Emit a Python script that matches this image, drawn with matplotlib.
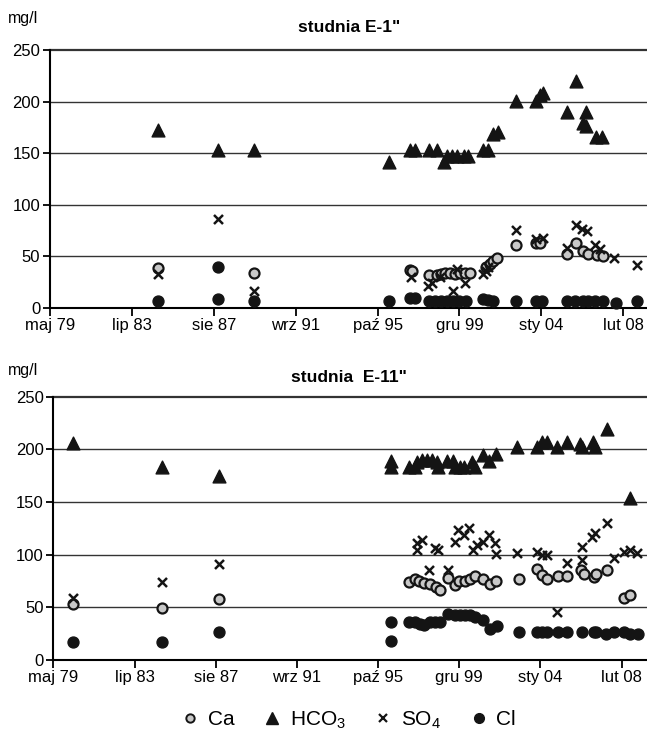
import numpy as np
import matplotlib
matplotlib.use("Agg")
import matplotlib.pyplot as plt
from matplotlib.lines import Line2D

plt.rcParams['font.family'] = ['Liberation Sans', 'DejaVu Sans']
plt.rcParams['mathtext.fontset'] = 'custom'
plt.rcParams['mathtext.rm'] = 'Liberation Sans'
plt.rcParams['mathtext.it'] = 'Liberation Sans'

# x tick positions (decimal years) and labels
tick_pos = [1979.33, 1983.42, 1987.5, 1991.58, 1995.67, 1999.75, 2003.83, 2007.92]
tick_lab = ['maj 79', 'lip 83', 'sie 87', 'wrz 91', 'paź 95', 'gru 99', 'sty 04', 'lut 08']

# ---- studnia E-1" ----
e1_hco3_t = [1984.72, 1987.71, 1989.50, 1996.25, 1997.29, 1997.53, 1998.25, 1998.62, 1998.98,
             1999.12, 1999.39, 1999.61, 1999.99, 2000.19, 2000.94, 2001.19, 2001.44, 2001.69,
             2002.57, 2003.57, 2003.77, 2003.90, 2005.10, 2005.55, 2006.05, 2005.93, 2006.05,
             2006.55, 2006.85]
e1_hco3 = [172, 153, 153, 141, 153, 153, 153, 153, 141,
           147, 147, 147, 147, 147, 153, 153, 169, 171,
           201, 201, 206, 208, 190, 220, 190, 179, 176,
           166, 166]

e1_ca_t = [1984.72, 1989.50, 1997.29, 1997.40, 1998.25, 1998.62, 1998.82, 1999.03, 1999.28,
           1999.53, 1999.78, 2000.03, 2000.28, 2001.06, 2001.28, 2001.44, 2001.61, 2002.57,
           2003.57, 2003.77, 2005.10, 2005.56, 2005.93, 2006.18, 2006.60, 2006.90]
e1_ca = [39, 34, 37, 36, 32, 32, 33, 34, 34,
         33, 34, 34, 34, 40, 43, 46, 48, 61,
         63, 63, 52, 63, 55, 52, 51, 50]

e1_so4_t = [1984.72, 1987.71, 1989.50, 1997.33, 1998.20, 1998.37, 1998.80, 1999.45, 1999.61,
            2000.03, 2000.94, 2001.06, 2001.19, 2002.57, 2003.57, 2003.90, 2005.10, 2005.56,
            2005.85, 2006.10, 2006.51, 2006.76, 2007.46, 2008.59]
e1_so4 = [33, 86, 16, 30, 21, 24, 30, 16, 38,
          24, 33, 36, 40, 76, 67, 68, 58, 80,
          77, 75, 61, 57, 48, 42]

e1_cl_t = [1984.72, 1987.71, 1987.71, 1989.50, 1996.25, 1997.29, 1997.53, 1998.25, 1998.55,
           1998.85, 1999.15, 1999.45, 1999.75, 2000.05, 2000.94, 2001.19, 2001.44, 2002.57,
           2003.57, 2003.85, 2005.10, 2005.51, 2005.93, 2006.18, 2006.51, 2006.93, 2007.56,
           2008.59]
e1_cl = [7, 9, 40, 7, 7, 10, 10, 7, 7,
         7, 7, 7, 7, 7, 9, 8, 7, 7,
         7, 7, 7, 7, 7, 7, 7, 7, 5,
         7]

# ---- studnia E-11" ----
e11_hco3_t = [1980.30, 1984.82, 1987.67, 1996.32, 1996.32, 1997.25, 1997.53, 1997.62, 1997.87,
              1998.12, 1998.37, 1998.62, 1998.71, 1999.13, 1999.46, 1999.55, 1999.80, 2000.00,
              2000.40, 2000.55, 2000.97, 2001.27, 2001.60, 2002.68, 2003.66, 2003.90, 2004.16,
              2004.66, 2005.17, 2005.84, 2005.92, 2006.47, 2006.60, 2007.18, 2008.32]
e11_hco3 = [206, 183, 175, 189, 183, 183, 183, 188, 190,
            190, 190, 188, 183, 189, 189, 183, 183, 183,
            188, 183, 195, 189, 196, 202, 202, 207, 207,
            202, 207, 205, 202, 207, 202, 219, 154]

e11_ca_t = [1980.30, 1984.82, 1987.67, 1997.25, 1997.53, 1997.75, 1997.98, 1998.29, 1998.59,
            1998.79, 1999.21, 1999.55, 1999.76, 2000.05, 2000.30, 2000.55, 2000.97, 2001.30,
            2001.60, 2002.77, 2003.69, 2003.90, 2004.16, 2004.71, 2005.20, 2005.87, 2006.04,
            2006.51, 2006.64, 2007.18, 2008.02, 2008.35]
e11_ca = [53, 49, 58, 74, 77, 75, 73, 72, 69,
          66, 78, 71, 75, 75, 77, 80, 77, 72,
          75, 77, 86, 81, 77, 80, 80, 85, 82,
          79, 82, 85, 59, 62]

e11_so4_t = [1980.30, 1984.82, 1987.67, 1997.62, 1997.62, 1997.90, 1998.25, 1998.54, 1998.71,
             1999.21, 1999.55, 1999.71, 1999.97, 2000.22, 2000.47, 2000.64, 2000.97, 2001.27,
             2001.56, 2001.61, 2002.68, 2003.66, 2003.90, 2004.16, 2004.66, 2005.17, 2005.92,
             2005.92, 2006.42, 2006.60, 2007.18, 2007.55, 2008.02, 2008.35, 2008.69]
e11_so4 = [59, 74, 91, 104, 111, 114, 85, 106, 104,
           85, 112, 123, 119, 125, 104, 109, 112, 119,
           111, 101, 102, 103, 100, 100, 46, 92, 107,
           95, 117, 121, 130, 97, 103, 104, 102]

e11_cl_t = [1980.30, 1984.82, 1987.67, 1996.32, 1996.32, 1997.25, 1997.53, 1997.78, 1997.98,
            1998.29, 1998.54, 1998.79, 1999.21, 1999.55, 1999.80, 2000.05, 2000.30, 2000.55,
            2000.97, 2001.30, 2001.64, 2002.77, 2003.66, 2003.90, 2004.16, 2004.71, 2005.17,
            2005.92, 2006.51, 2006.64, 2007.15, 2007.52, 2008.02, 2008.35, 2008.77]
e11_cl = [17, 17, 27, 36, 18, 36, 36, 34, 33,
          36, 36, 36, 44, 43, 43, 43, 43, 41,
          38, 29, 32, 27, 27, 27, 27, 27, 27,
          27, 27, 27, 25, 27, 27, 25, 25]

W, H = 647, 739
fig = plt.figure(figsize=(W / 100, H / 100), dpi=100)


def panel(rect, xmax, title, title_y, unit_y, ca_t, ca, hco3_t, hco3, so4_t, so4, cl_t, cl):
    ax = fig.add_axes(rect)
    ax.set_xlim(1979.33, xmax)
    ax.set_ylim(0, 250)
    ax.set_yticks([0, 50, 100, 150, 200, 250])
    ax.set_xticks(tick_pos)
    ax.set_xticklabels(tick_lab)
    for y in [50, 100, 150, 200]:
        ax.axhline(y, color='#333333', lw=1.0, zorder=1)
    ax.axhline(250, color='#333333', lw=1.6, zorder=1, clip_on=False)
    for s in ['top', 'right']:
        ax.spines[s].set_visible(False)
    ax.spines['left'].set_linewidth(1.5)
    ax.spines['bottom'].set_linewidth(1.5)
    ax.tick_params(axis='both', direction='out', length=5, width=1.3, labelsize=12, pad=2)
    ax.tick_params(axis='x', length=6, pad=1)

    ax.scatter(cl_t, cl, s=62, marker='o', color='#141414', zorder=3, clip_on=False)
    ax.scatter(hco3_t, hco3, s=85, marker='^', color='#141414', zorder=3, clip_on=False)
    ax.scatter(ca_t, ca, s=52, marker='o', facecolor='#c8c8c8', edgecolor='#141414',
               linewidths=1.6, zorder=4, clip_on=False)
    ax.scatter(so4_t, so4, s=42, marker='x', color='#141414', linewidths=1.8, zorder=5, clip_on=False)

    fig.text(349 / W, 1 - title_y / H, title, ha='center', va='center',
             fontsize=12.5, fontweight='bold')
    fig.text(8 / W, 1 - unit_y / H, 'mg/l', ha='left', va='center', fontsize=11.5)
    return ax


panel([50 / W, 1 - 308 / H, 597 / W, 258 / H], 2009.1, 'studnia E-1"', 28, 18,
      e1_ca_t, e1_ca, e1_hco3_t, e1_hco3, e1_so4_t, e1_so4, e1_cl_t, e1_cl)
panel([53.3 / W, 1 - 660 / H, 593.7 / W, 263.3 / H], 2009.2, 'studnia  E-11"', 378, 371,
      e11_ca_t, e11_ca, e11_hco3_t, e11_hco3, e11_so4_t, e11_so4, e11_cl_t, e11_cl)

handles = [
    Line2D([], [], ls='none', marker='o', ms=6, mfc='#c8c8c8', mec='#141414', mew=1.4),
    Line2D([], [], ls='none', marker='^', ms=8, color='#141414'),
    Line2D([], [], ls='none', marker='x', ms=6, color='#141414', mew=1.6),
    Line2D([], [], ls='none', marker='o', ms=7, color='#141414'),
]
fig.legend(handles, ['Ca', 'HCO$_3$', 'SO$_4$', 'Cl'], loc='center', ncol=4,
           bbox_to_anchor=(348 / W, 1 - 720 / H), frameon=False, fontsize=15,
           handletextpad=0.35, columnspacing=1.3, handlelength=1.0)

fig.savefig('out.png', dpi=100)
